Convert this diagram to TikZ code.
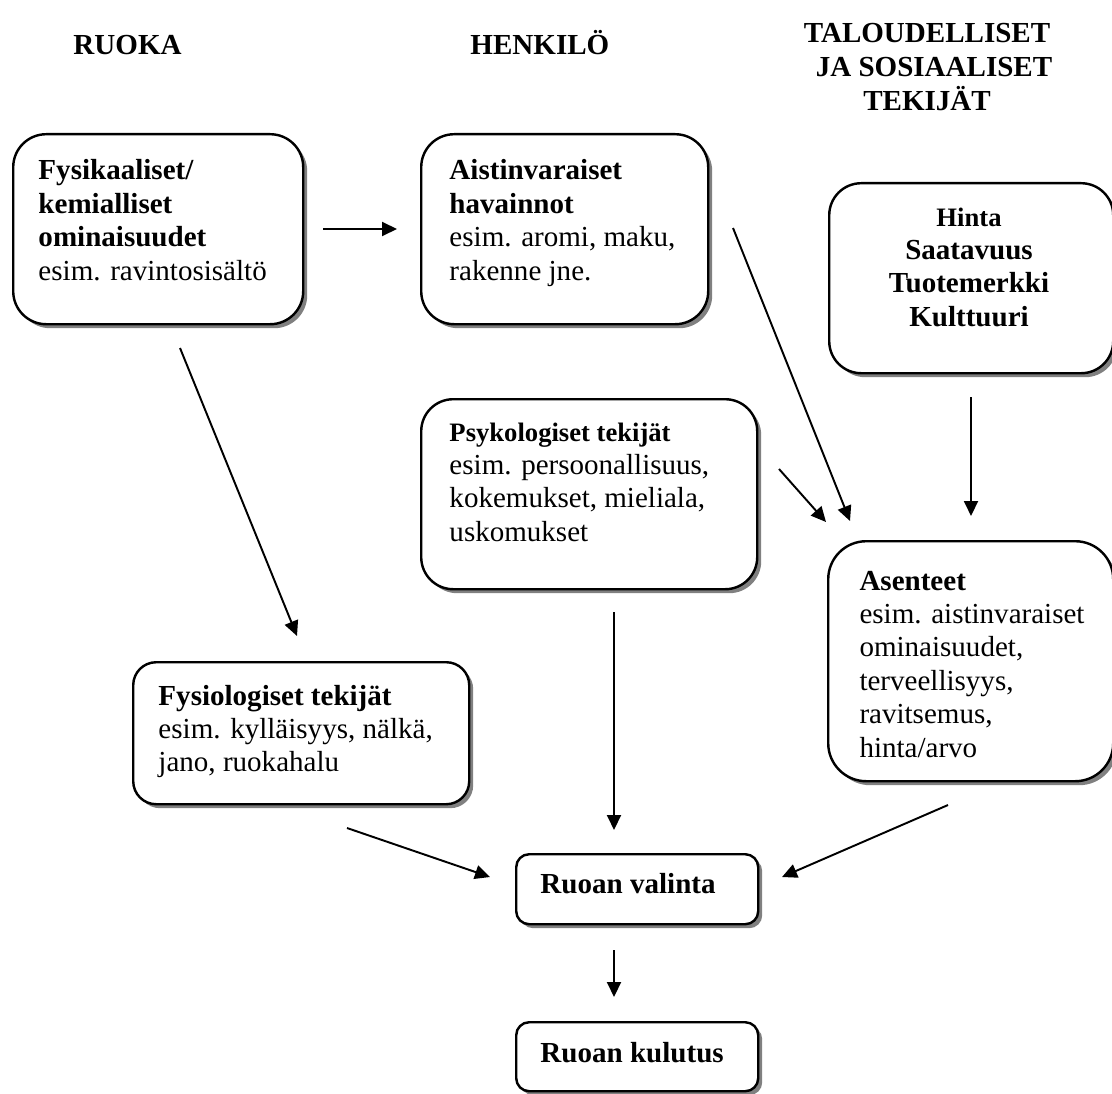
\documentclass[tikz,border=0pt]{standalone}
\usepackage{fontspec}
\setmainfont{Liberation Serif}
\usetikzlibrary{arrows.meta,shadows}
% one drawing unit = one pixel of the 1112 x 1093 layout grid
\def\u{0.4132pt}
% left- or centre-aligned block whose first baseline sits on the node's base
\newcommand\textlines[2]{\begin{tabular}[t]{@{}#1@{}}#2\end{tabular}}
\begin{document}
\begin{tikzpicture}[x=\u,y=-\u,
  box/.style={draw=black, line width=1pt, fill=white, inner sep=0pt,
    anchor=north west,
    drop shadow={shadow xshift=4*\u, shadow yshift=-4*\u, fill=black!50, opacity=1}},
  txt/.style={anchor=base west, inner sep=0pt, font=\fontsize{12}{13.8}\selectfont},
  ctxt/.style={anchor=base, inner sep=0pt, font=\fontsize{12}{13.8}\selectfont},
  head/.style={anchor=base west, inner sep=0pt, font=\fontsize{12}{13.8}\selectfont\bfseries},
  arr/.style={-{Triangle[length=15*\u,width=14*\u]}, line width=0.8pt},
]
\useasboundingbox (0,0) rectangle (1112,1093);

% column headings
\node[head] (hruoka) at (73,55) {RUOKA};
\node[head] (hhenk) at (470,55) {HENKILÖ};
\node[ctxt, font=\fontsize{12}{13.8}\selectfont\bfseries] (htal) at (927,43)
  {\textlines{c}{TALOUDELLISET\\ \hspace*{5.8pt}JA SOSIAALISET\\ TEKIJÄT}};

% boxes
\node[box, rounded corners=33*\u, minimum width=290*\u, minimum height=190*\u] (fys) at (12,133) {};
\node[box, rounded corners=33*\u, minimum width=287*\u, minimum height=190*\u] (ais) at (420,133) {};
\node[box, rounded corners=32*\u, minimum width=284*\u, minimum height=190*\u] (hin) at (828,182) {};
\node[box, rounded corners=32*\u, minimum width=336*\u, minimum height=190*\u] (psy) at (420,398) {};
\node[box, rounded corners=38*\u, minimum width=285*\u, minimum height=240*\u] (ase) at (827,540) {};
\node[box, rounded corners=23*\u, minimum width=336*\u, minimum height=142*\u] (fsl) at (132,661) {};
\node[box, rounded corners=13*\u, minimum width=242*\u, minimum height=70*\u] (val) at (515,853) {};
\node[box, rounded corners=13*\u, minimum width=242*\u, minimum height=69*\u] (kul) at (515,1021) {};

% box texts
\node[txt] (tfys) at (38,180) {\textlines{l}{\textbf{Fysikaaliset/}\\ \textbf{kemialliset}\\ \textbf{ominaisuudet}\\ esim. ravintosisältö}};
\node[txt] (tais) at (449,180) {\textlines{l}{\textbf{Aistinvaraiset}\\ \textbf{havainnot}\\ esim. aromi, maku,\\ rakenne jne.}};
\node[ctxt] (thin) at (969,226) {\textlines{c}{{\fontsize{11}{12.6}\selectfont\bfseries Hinta}\\ \textbf{Saatavuus}\\ \textbf{Tuotemerkki}\\ \textbf{Kulttuuri}}};
\node[txt] (tpsy) at (449,441) {\textlines{l}{{\fontsize{11}{12.6}\selectfont\bfseries Psykologiset tekijät}\\ esim. persoonallisuus,\\ kokemukset, mieliala,\\ uskomukset}};
\node[txt] (tase) at (859,590) {\textlines{l}{\textbf{Asenteet}\\ esim. aistinvaraiset\\ ominaisuudet,\\ terveellisyys,\\ ravitsemus,\\ hinta/arvo}};
\node[txt] (tfsl) at (158,705) {\textlines{l}{\textbf{Fysiologiset tekijät}\\ esim. kylläisyys, nälkä,\\ jano, ruokahalu}};
\node[txt] (tval) at (540,893) {\textbf{Ruoan valinta}};
\node[txt] (tkul) at (540,1062) {\textbf{Ruoan kulutus}};

% connector end points
\coordinate (a1s) at (323,229);  \coordinate (a1e) at (397,229);
\coordinate (a2s) at (180,348);  \coordinate (a2e) at (297,636);
\coordinate (a3s) at (733,228);  \coordinate (a3e) at (850,521);
\coordinate (a4s) at (779,469);  \coordinate (a4e) at (826,522);
\coordinate (a5s) at (971,397);  \coordinate (a5e) at (971,516);
\coordinate (a6s) at (614,612);  \coordinate (a6e) at (614,830);
\coordinate (a7s) at (347,828);  \coordinate (a7e) at (490,877);
\coordinate (a8s) at (948,805);  \coordinate (a8e) at (782,877);
\coordinate (a9s) at (614,950);  \coordinate (a9e) at (614,997);

\draw[arr] (a1s) -- (a1e);
\draw[arr] (a2s) -- (a2e);
\draw[arr] (a3s) -- (a3e);
\draw[arr] (a4s) -- (a4e);
\draw[arr] (a5s) -- (a5e);
\draw[arr] (a6s) -- (a6e);
\draw[arr] (a7s) -- (a7e);
\draw[arr] (a8s) -- (a8e);
\draw[arr] (a9s) -- (a9e);
\end{tikzpicture}
\end{document}
